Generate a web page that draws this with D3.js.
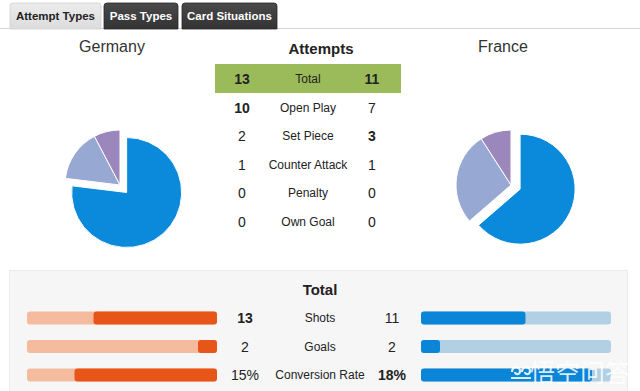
<!DOCTYPE html>
<html>
<head>
<meta charset="utf-8">
<script src="https://cdn.jsdelivr.net/npm/d3@7"></script>
<style>
  body { margin: 0; background: #fff; }
  svg { display: block; font-family: "Liberation Sans", Arial, sans-serif; }
</style>
</head>
<body>
<div id="chart"></div>
<script>
// tabs across the top
const tabs = ['Attempt Types', 'Pass Types', 'Card Situations'];

// attempts table
const teams = ['Germany', 'France'];
const attemptTypes = ['Open Play', 'Set Piece', 'Counter Attack', 'Penalty', 'Own Goal'];
const germanyAttempts = [10, 2, 1, 0, 0];
const franceAttempts = [7, 3, 1, 0, 0];

// totals panel
const statLabels = ['Shots', 'Goals', 'Conversion Rate'];
const statSuffix = ['', '', '%'];
const germanyStats = [13, 2, 15];
const franceStats = [11, 2, 18];
const statMax = 20;

const width = 640, height = 391;
const svg = d3.select('#chart').append('svg')
  .attr('width', width)
  .attr('height', height);

// --- tabs
const tabX = [10, 104, 182], tabW = [91, 74, 95];
svg.append('line')
  .attr('x1', 0).attr('x2', width).attr('y1', 28.5).attr('y2', 28.5)
  .attr('stroke', '#d6d6d6');
const defs = svg.append('defs');
const gActive = defs.append('linearGradient').attr('id', 'tabActive').attr('x2', 0).attr('y2', 1);
gActive.append('stop').attr('offset', 0).attr('stop-color', '#ececec');
gActive.append('stop').attr('offset', 1).attr('stop-color', '#dcdcdc');
const gDark = defs.append('linearGradient').attr('id', 'tabDark').attr('x2', 0).attr('y2', 1);
gDark.append('stop').attr('offset', 0).attr('stop-color', '#4a4a4a');
gDark.append('stop').attr('offset', 1).attr('stop-color', '#333');

const tab = svg.selectAll('.tab').data(tabs).join('g').attr('class', 'tab');
tab.append('path')
  .attr('d', (d, i) => {
    const x = tabX[i], w = tabW[i], y = 3, h = 26, r = 3;
    return `M${x},${y + h}V${y + r}Q${x},${y} ${x + r},${y}H${x + w - r}Q${x + w},${y} ${x + w},${y + r}V${y + h}Z`;
  })
  .attr('fill', (d, i) => i === 0 ? 'url(#tabActive)' : 'url(#tabDark)')
  .attr('stroke', (d, i) => i === 0 ? '#d0d0d0' : '#2a2a2a')
  .attr('stroke-width', 0.8);
tab.append('text')
  .attr('x', (d, i) => tabX[i] + tabW[i] / 2)
  .attr('y', 20)
  .attr('text-anchor', 'middle')
  .attr('font-size', 11.5)
  .attr('font-weight', 'bold')
  .attr('fill', (d, i) => i === 0 ? '#222' : '#fff')
  .text(d => d);

// --- team titles and pies
const pieCx = [120, 511], pieCy = 185, radius = 55;
const pieColors = ['#0b89da', '#97a9d2', '#9b87bc'];
const pie = d3.pie().sort(null).value(d => d);
const arc = d3.arc().innerRadius(0).outerRadius(radius);
const titleX = [112, 503];

[germanyAttempts, franceAttempts].forEach((vals, t) => {
  svg.append('text')
    .attr('x', titleX[t]).attr('y', 52)
    .attr('text-anchor', 'middle')
    .attr('font-size', 16)
    .attr('fill', '#333')
    .text(teams[t]);

  const slices = pie(vals).filter(d => d.value > 0);
  const g = svg.append('g').attr('transform', `translate(${pieCx[t]},${pieCy})`);
  g.selectAll('path').data(slices).join('path')
    .attr('d', arc)
    .attr('fill', (d, i) => pieColors[i])
    .attr('stroke', '#fff')
    .attr('stroke-width', 1)
    .attr('transform', (d, i) => {
      if (i !== 0) return null;
      // pull the main slice out
      const a = (d.startAngle + d.endAngle) / 2;
      return `translate(${Math.sin(a) * 10},${-Math.cos(a) * 10})`;
    });
});

// --- attempts table
svg.append('text')
  .attr('x', 321).attr('y', 54)
  .attr('text-anchor', 'middle')
  .attr('font-size', 15)
  .attr('font-weight', 'bold')
  .attr('fill', '#222')
  .text('Attempts');

const rows = [{ label: 'Total', g: d3.sum(germanyAttempts), f: d3.sum(franceAttempts), total: true }]
  .concat(attemptTypes.map((c, i) => ({ label: c, g: germanyAttempts[i], f: franceAttempts[i] })));
const rowY = d3.scalePoint().domain(rows.map(d => d.label)).range([79, 222]);

svg.append('rect')
  .attr('x', 215).attr('y', rowY('Total') - 15)
  .attr('width', 186).attr('height', 29)
  .attr('fill', '#9bbb5a');

const row = svg.selectAll('.row').data(rows).join('g').attr('class', 'row')
  .attr('transform', d => `translate(0,${rowY(d.label)})`);
row.append('text')
  .attr('x', 242).attr('y', 5).attr('text-anchor', 'middle')
  .attr('font-size', 14)
  .attr('font-weight', d => d.total || d.g > d.f ? 'bold' : 'normal')
  .attr('fill', '#222')
  .text(d => d.g);
row.append('text')
  .attr('x', 308).attr('y', 4).attr('text-anchor', 'middle')
  .attr('font-size', 12)
  .attr('fill', '#222')
  .text(d => d.label);
row.append('text')
  .attr('x', 372).attr('y', 5).attr('text-anchor', 'middle')
  .attr('font-size', 14)
  .attr('font-weight', d => d.total || d.f > d.g ? 'bold' : 'normal')
  .attr('fill', '#222')
  .text(d => d.f);

// --- totals panel
svg.append('rect')
  .attr('x', 9.5).attr('y', 270.5)
  .attr('width', 618).attr('height', 130)
  .attr('fill', '#f6f6f6')
  .attr('stroke', '#ebebeb');
svg.append('text')
  .attr('x', 320).attr('y', 295)
  .attr('text-anchor', 'middle')
  .attr('font-size', 15)
  .attr('font-weight', 'bold')
  .attr('fill', '#222')
  .text('Total');

const barW = 190, barH = 13;
const x = d3.scaleLinear().domain([0, statMax]).range([0, barW]);
const statY = d3.scalePoint().domain(statLabels).range([318, 375]);
const leftX = 27, rightX = 421;

const stat = svg.selectAll('.stat').data(statLabels).join('g').attr('class', 'stat')
  .attr('transform', d => `translate(0,${statY(d)})`);

stat.append('rect')
  .attr('x', leftX).attr('y', -barH / 2).attr('width', barW).attr('height', barH)
  .attr('rx', 3).attr('fill', '#f5bb9f');
stat.append('rect')
  .attr('x', (d, i) => leftX + barW - x(germanyStats[i])).attr('y', -barH / 2)
  .attr('width', (d, i) => x(germanyStats[i])).attr('height', barH)
  .attr('rx', 3).attr('fill', '#e85519');
stat.append('rect')
  .attr('x', rightX).attr('y', -barH / 2).attr('width', barW).attr('height', barH)
  .attr('rx', 3).attr('fill', '#b2d0e4');
stat.append('rect')
  .attr('x', rightX).attr('y', -barH / 2)
  .attr('width', (d, i) => x(franceStats[i])).attr('height', barH)
  .attr('rx', 3).attr('fill', '#0b85d8');

stat.append('text')
  .attr('x', 245).attr('y', 5).attr('text-anchor', 'middle')
  .attr('font-size', 14)
  .attr('font-weight', (d, i) => germanyStats[i] > franceStats[i] ? 'bold' : 'normal')
  .attr('fill', '#222')
  .text((d, i) => germanyStats[i] + statSuffix[i]);
stat.append('text')
  .attr('x', 320).attr('y', 4).attr('text-anchor', 'middle')
  .attr('font-size', 12)
  .attr('fill', '#222')
  .text(d => d);
stat.append('text')
  .attr('x', 392).attr('y', 5).attr('text-anchor', 'middle')
  .attr('font-size', 14)
  .attr('font-weight', (d, i) => franceStats[i] > germanyStats[i] ? 'bold' : 'normal')
  .attr('fill', '#222')
  .text((d, i) => franceStats[i] + statSuffix[i]);

// watermark
const wm = svg.append('g').attr('fill', '#fff').attr('fill-opacity', 0.85);
wm.append('text')
  .attr('x', 630).attr('y', 382)
  .attr('text-anchor', 'end')
  .attr('font-family', '"Noto Sans CJK SC", sans-serif')
  .attr('font-size', 25)
  .text('悟空问答');
wm.append('path')
  .attr('d', 'M512,372c0,-6 8,-6 8,-1c0,4 -5,4 -5,1M522,372c0,-6 8,-6 8,-1c0,4 -5,4 -5,1M511,378h20')
  .attr('fill', 'none')
  .attr('stroke', '#fff')
  .attr('stroke-opacity', 0.85)
  .attr('stroke-width', 2.2);
</script>
</body>
</html>
